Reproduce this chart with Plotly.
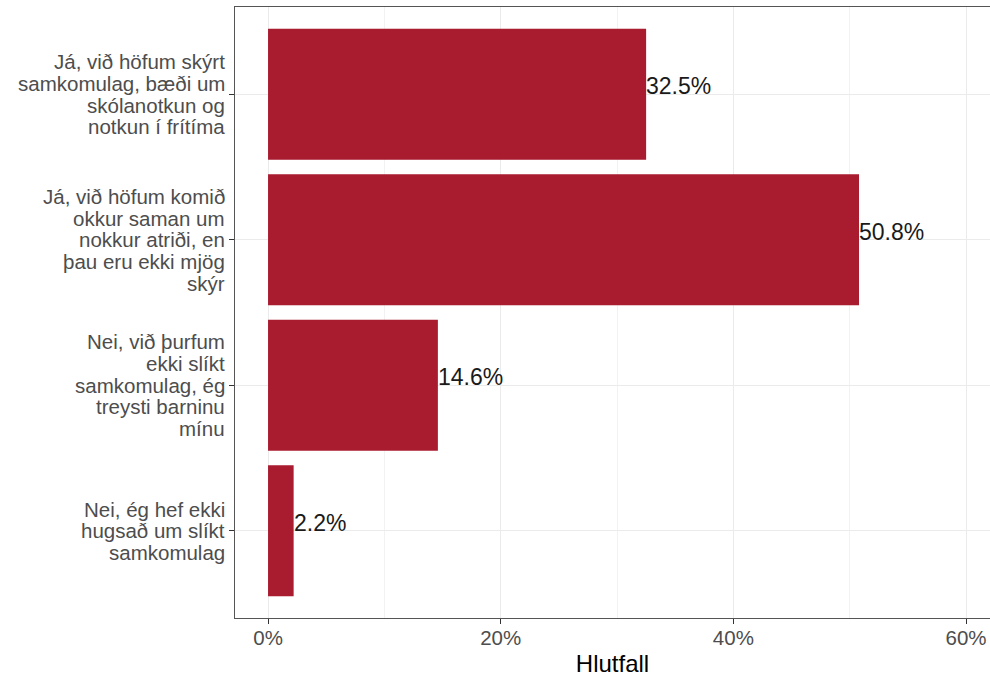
import plotly.graph_objects as go

categories = [
    "Já, við höfum skýrt\nsamkomulag, bæði um\nskólanotkun og\nnotkun í frítíma",
    "Já, við höfum komið\nokkur saman um\nnokkur atriði, en\nþau eru ekki mjög\nskýr",
    "Nei, við þurfum\nekki slíkt\nsamkomulag, ég\ntreysti barninu\nmínu",
    "Nei, ég hef ekki\nhugsað um slíkt\nsamkomulag",
]
values = [32.5, 50.8, 14.6, 2.2]
x_tickvals = [0, 20, 40, 60]
x_ticktext = ["0%", "20%", "40%", "60%"]
x_title = "Hlutfall"

BAR = "#A91B2F"
FONT = "Liberation Sans, Arial, sans-serif"

ykeys = [c.replace("\n", " ") for c in categories]

fig = go.Figure(go.Bar(
    x=values, y=ykeys, orientation="h",
    marker=dict(color=BAR, line=dict(width=0)),
    width=0.9, hoverinfo="skip",
))

annotations = []
# data labels
for k, v in zip(ykeys, values):
    annotations.append(dict(
        x=v, y=k, xref="x", yref="y", text=f"{v:.1f}%",
        showarrow=False, xanchor="left", yanchor="middle",
        font=dict(family=FONT, size=23, color="#1a1a1a"),
        xshift=-2, yshift=8,
    ))
# category labels, one annotation per line for tight ggplot line spacing
LH = 21.7
for c, k in zip(categories, ykeys):
    lines = c.split("\n")
    n = len(lines)
    for j, line in enumerate(lines):
        annotations.append(dict(
            x=0, y=k, xref="paper", yref="y", text=line,
            showarrow=False, xanchor="right", yanchor="middle",
            font=dict(family=FONT, size=20.5, color="#4D4D4D"),
            xshift=-8, yshift=((n - 1) / 2 - j) * LH,
        ))

fig.update_layout(
    width=990, height=677,
    margin=dict(l=235, r=0, t=7, b=59),
    paper_bgcolor="white", plot_bgcolor="white",
    showlegend=False,
    annotations=annotations,
    font=dict(family=FONT),
)
fig.update_xaxes(
    range=[-2.84, 62.06],
    tickvals=x_tickvals, ticktext=x_ticktext,
    tickfont=dict(family=FONT, size=20.5, color="#4D4D4D"),
    ticks="outside", ticklen=5, tickcolor="#333333", tickwidth=1,
    ticklabelstandoff=-4,
    showgrid=True, gridcolor="#EBEBEB", gridwidth=1.2,
    minor=dict(dtick=10, tick0=0, showgrid=True, gridcolor="#F2F2F2", gridwidth=0.7, ticks=""),
    showline=True, linecolor="#555555", linewidth=1, mirror=True,
    zeroline=False,
    title=dict(text=x_title, font=dict(family=FONT, size=24, color="black"), standoff=9),
)
fig.update_yaxes(
    categoryorder="array", categoryarray=ykeys,
    range=[3.6, -0.6],
    showticklabels=False,
    ticks="outside", ticklen=5, tickcolor="#333333", tickwidth=1,
    showgrid=True, gridcolor="#EBEBEB", gridwidth=1.2,
    showline=True, linecolor="#555555", linewidth=1, mirror=False,
    zeroline=False,
)

fig.write_html(
    "out.html",
    config={"displayModeBar": False},
    post_script="document.body.style.margin='0';document.body.style.overflow='hidden';",
)
